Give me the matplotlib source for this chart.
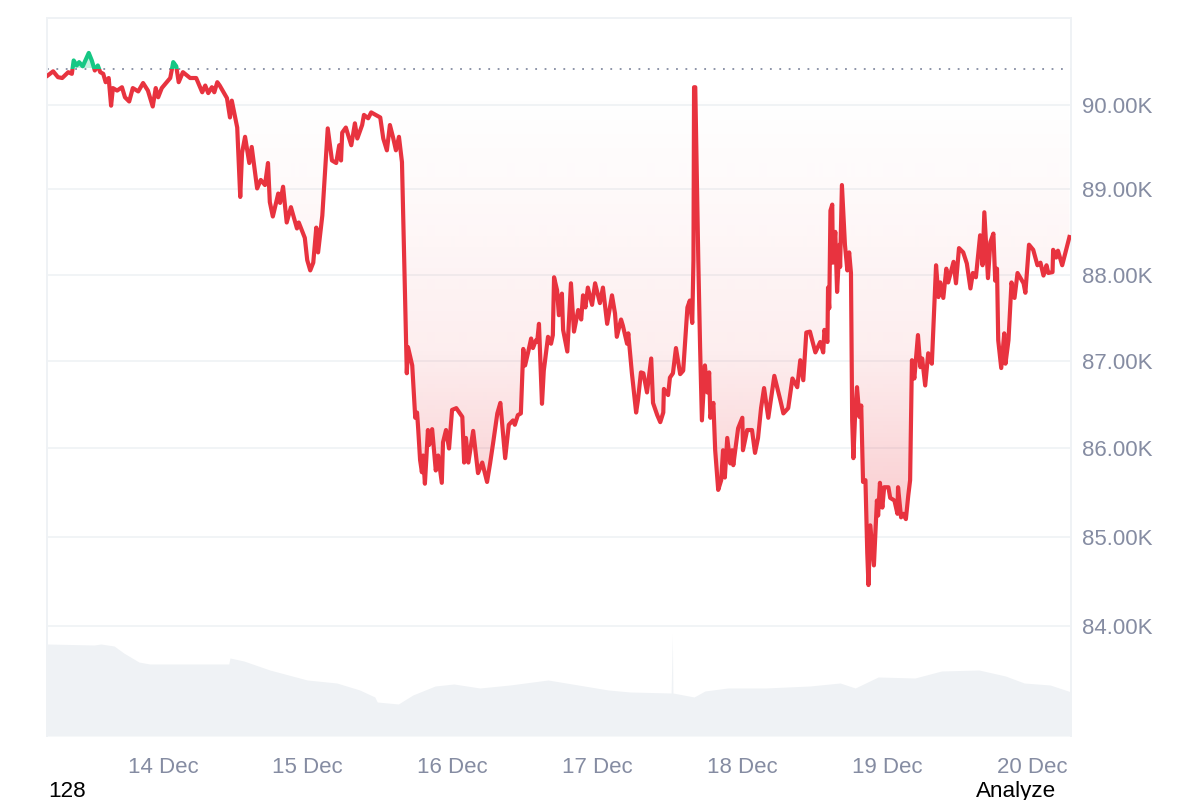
import numpy as np
import matplotlib
matplotlib.use("Agg")
import matplotlib.pyplot as plt
from matplotlib.path import Path
from matplotlib.patches import Rectangle
from matplotlib.ticker import NullLocator

plt.rcParams['font.family'] = ['Liberation Sans', 'DejaVu Sans']

# hours since 13 Dec 00:00
hours = [4.9,5.8,6.6,7.3,8.3,8.9,9.2,9.7,10.1,10.7,11.7,12.2,12.7,13.2,13.6,14.1,14.5,15.0,15.4,15.7,16.4,17.2,17.7,18.4,19.0,19.9,20.7,21.5,22.3,22.8,23.2,23.8,
 25.2,25.7,26.2,26.6,27.3,28.5,29.5,30.5,31.0,31.5,32.1,32.5,33.0,33.4,34.6,35.1,35.4,36.3,36.8,37.1,37.6,38.3,38.7,39.6,40.2,40.9,41.4,41.7,42.2,43.1,43.4,43.9,44.5,45.2,46.2,46.5,47.5,47.9,
 48.4,48.9,49.4,49.7,50.4,51.3,52.0,52.7,53.2,53.5,53.7,54.3,55.2,55.8,56.2,57.0,57.3,58.0,58.5,60.0,60.5,61.1,61.6,62.1,62.6,63.1,63.6,64.1,64.4,64.6,65.3,65.8,66.1,66.3,66.6,66.9,67.1,67.4,67.9,68.1,68.6,69.2,69.6,70.2,70.4,70.9,71.4,71.9,
 72.6,73.6,73.9,74.2,74.6,75.4,76.2,76.9,77.7,78.2,78.7,79.4,79.9,80.7,81.3,82.0,82.3,82.8,83.3,83.7,84.0,84.5,85.0,85.3,85.8,86.0,86.3,86.8,87.1,87.8,88.3,88.6,88.8,89.3,89.6,90.1,90.3,91.0,91.6,92.1,92.8,93.3,93.6,94.0,94.4,95.1,95.6,
 96.4,96.9,97.6,98.4,98.9,99.2,99.9,100.2,100.9,101.1,101.7,102.4,102.7,103.2,103.6,104.2,104.9,105.2,105.9,106.4,106.9,107.0,107.7,108.0,108.5,109.0,109.7,110.2,110.9,111.3,111.7,111.9,112.0,112.2,112.7,113.0,113.3,113.8,114.2,114.5,114.7,115.2,115.5,116.0,116.5,116.8,117.1,117.5,118.0,118.3,118.5,119.3,
 120.0,120.1,120.8,121.6,122.1,122.6,123.1,123.6,124.3,125.3,126.3,126.8,127.6,128.3,129.1,129.6,130.1,130.6,131.2,132.1,132.9,133.4,133.6,134.1,134.2,134.4,134.6,134.9,135.0,135.4,135.7,136.1,136.2,136.5,137.0,137.4,137.7,138.0,138.2,138.4,138.7,139.0,139.4,139.7,140.0,140.4,140.7,140.9,141.2,141.8,142.3,142.5,142.8,143.2,143.5,
 144.2,144.5,145.2,145.7,145.8,146.3,146.7,147.1,147.5,147.8,148.1,148.5,149.1,149.5,149.8,150.3,150.8,151.4,152.1,152.5,152.8,153.3,153.8,154.1,155.0,155.4,155.9,156.6,157.2,157.8,158.2,158.7,159.4,159.8,160.1,160.7,161.1,161.6,161.9,162.2,162.4,162.9,163.4,163.6,164.1,164.6,165.1,165.6,166.6,166.9,167.5,
 168.2,168.9,169.4,169.9,170.4,170.7,171.4,171.5,172.0,172.3,173.0,174.2]

# price, thousands of USD
prices = [90.35,90.40,90.33,90.32,90.39,90.37,90.53,90.47,90.51,90.46,90.62,90.53,90.41,90.47,90.39,90.37,90.27,90.32,89.99,90.20,90.17,90.21,90.09,90.04,90.20,90.16,90.26,90.17,89.98,90.20,90.09,90.20,
 90.32,90.51,90.46,90.27,90.39,90.32,90.32,90.15,90.23,90.14,90.21,90.15,90.27,90.23,90.08,89.85,90.05,89.73,88.91,89.43,89.62,89.31,89.50,89.01,89.11,89.05,89.31,88.85,88.68,88.95,88.84,89.03,88.61,88.79,88.54,88.61,88.43,88.17,
 88.05,88.14,88.55,88.26,88.69,89.72,89.34,89.31,89.52,89.34,89.67,89.73,89.52,89.78,89.60,89.76,89.88,89.84,89.91,89.85,89.60,89.46,89.76,89.62,89.46,89.62,89.32,87.74,86.86,87.16,86.95,86.35,86.41,86.21,85.87,85.73,85.92,85.60,86.21,86.04,86.22,85.75,85.92,85.61,86.07,86.21,86.00,86.44,
 86.46,86.36,85.84,86.12,85.84,86.20,85.72,85.84,85.62,85.83,86.06,86.40,86.52,85.89,86.27,86.32,86.27,86.38,86.40,87.14,86.95,87.10,87.26,87.15,87.24,87.22,87.43,86.51,86.89,87.28,87.20,87.30,87.97,87.82,87.53,87.78,87.36,87.11,87.90,87.34,87.59,87.48,87.76,87.62,87.85,87.65,87.90,
 87.67,87.85,87.43,87.76,87.55,87.28,87.48,87.41,87.20,87.32,86.86,86.41,86.55,86.87,86.86,86.64,87.03,86.52,86.38,86.30,86.41,86.68,86.61,86.81,86.86,87.15,86.85,86.89,87.62,87.70,87.44,88.17,90.21,90.21,88.17,87.16,86.32,86.95,86.64,86.87,86.35,86.52,85.98,85.53,85.64,85.98,85.67,86.12,85.83,85.98,85.81,86.23,
 86.35,85.98,86.21,86.21,85.95,86.12,86.46,86.69,86.35,86.83,86.55,86.40,86.46,86.80,86.70,87.01,86.78,87.33,87.34,87.10,87.22,87.10,87.36,87.22,87.85,87.61,88.75,88.82,88.14,88.50,87.80,88.35,88.09,89.05,88.35,88.05,88.26,88.02,86.32,85.89,86.41,86.70,86.36,86.49,85.62,85.64,84.82,84.46,85.13,84.68,85.41,85.24,85.61,85.33,85.56,
 85.56,85.44,85.41,85.26,85.56,85.22,85.26,85.20,85.47,85.64,87.01,86.80,87.30,86.93,87.03,86.72,87.09,86.97,88.11,87.74,87.91,87.73,88.07,87.91,88.15,87.90,88.31,88.26,88.13,87.84,88.02,87.97,88.46,88.11,88.73,87.96,88.38,88.48,87.93,88.07,87.24,86.92,87.32,86.97,87.24,87.91,87.73,88.02,87.90,87.79,88.35,
 88.29,88.11,88.14,87.99,88.11,88.02,88.03,88.29,88.20,88.28,88.11,88.44]

baseline_price = 90.43

vol_hours = [4.8,12.6,13.7,15.9,17.5,20.0,21.8,34.9,35.1,37.4,41.7,47.9,52.8,56.6,59.1,59.5,63.0,65.4,69.1,72.2,76.5,81.5,87.8,92.8,97.8,101.4,108.2,108.4,108.5,112.0,113.8,117.6,123.8,131.2,136.2,138.7,142.5,148.6,153.0,159.2,163.6,166.7,171.0,174.5]
volumes = [92,91,92,90,83,74,72,72,78,75,66,56,53,46,39,34,32,41,50,52,48,51,56,51,46,44,43,102,43,39,45,48,48,50,53,48,59,58,65,66,60,53,51,44]

price_ticks = [84, 85, 86, 87, 88, 89, 90]
price_labels = ['84.00K', '85.00K', '86.00K', '87.00K', '88.00K', '89.00K', '90.00K']
day_ticks = [24, 48, 72, 96, 120, 144, 168]
day_labels = ['14 Dec', '15 Dec', '16 Dec', '17 Dec', '18 Dec', '19 Dec', '20 Dec']

RED = '#E8333F'; GREEN = '#16C784'; GRID = '#EFF2F5'; TXT = '#858CA2'

W, H = 1200, 800
fig = plt.figure(figsize=(12, 8), dpi=100, facecolor='white')
L, R, T, B = 47, 1071, 18, 736

# volume (behind the price axes)
axv = fig.add_axes([L/W, 1-B/H, (R-L)/W, (B-T)/H], zorder=1)
axv.set_xlim(4.78, 174.46)
axv.set_ylim(0, B - T)
axv.axis('off')
axv.fill_between(vol_hours, 0, volumes, color=GRID, lw=0, zorder=1)

ax = fig.add_axes([L/W, 1-B/H, (R-L)/W, (B-T)/H], zorder=2)
ax.patch.set_visible(False)
ax.set_yscale('log')

# gradient under the line, clipped to the region between line and baseline
rows = np.arange(T, B) + .5
alpha = np.interp(rows, [68, 110, 200, 350, 470, 585], [0, .005, .03, .085, .2, .32])
img = np.zeros((len(rows), 1, 4))
img[..., :3] = matplotlib.colors.to_rgb(RED)
img[..., 3] = alpha[:, None]
up = rows < 68.5
img[up, 0, :3] = matplotlib.colors.to_rgb(GREEN)
img[up, 0, 3] = .25
im = ax.imshow(img, extent=[0, 1, 0, 1], transform=ax.transAxes, aspect='auto', zorder=1, interpolation='bilinear')
verts = [(hours[0], baseline_price)] + list(zip(hours, prices)) + [(hours[-1], baseline_price), (hours[0], baseline_price)]
im.set_clip_path(Path(verts), transform=ax.transData)

xlim = (4.78, 174.46)
ylim = (82.79, 91.04)
ax.set_xlim(*xlim)
ax.set_ylim(*ylim)

for spine in ['top', 'left', 'right']:
    ax.spines[spine].set_color(GRID)
    ax.spines[spine].set_linewidth(1.4)
ax.spines['bottom'].set_visible(False)

ax.yaxis.tick_right()
ax.yaxis.set_minor_locator(NullLocator())
ax.set_yticks(price_ticks, price_labels)
ax.set_xticks(day_ticks, day_labels)
ax.tick_params(axis='y', length=0, pad=8, labelsize=16, labelcolor=TXT)
ax.tick_params(axis='x', length=0, pad=15, labelsize=16, labelcolor=TXT)
ax.grid(axis='y', color=GRID, lw=1.2, zorder=0)
ax.set_axisbelow(True)

# baseline and price line
ax.axhline(baseline_price, color=TXT, lw=1.3, ls=(0, (1, 4.2)), zorder=2)
for col, y0, y1 in [(RED, ylim[0], baseline_price), (GREEN, baseline_price, ylim[1])]:
    ln, = ax.plot(hours, prices, color=col, lw=3.0, solid_joinstyle='round', zorder=3)
    ln.set_clip_path(Rectangle((xlim[0], y0), xlim[1]-xlim[0], y1-y0, transform=ax.transData))

fig.text(48/W, 1-797/H, '128', fontsize=16.2, color='black', va='baseline', ha='left')
fig.text(976/W, 1-797/H, 'Analyze', fontsize=16.2, color='black', va='baseline', ha='left')

fig.savefig('out.png', dpi=100)
